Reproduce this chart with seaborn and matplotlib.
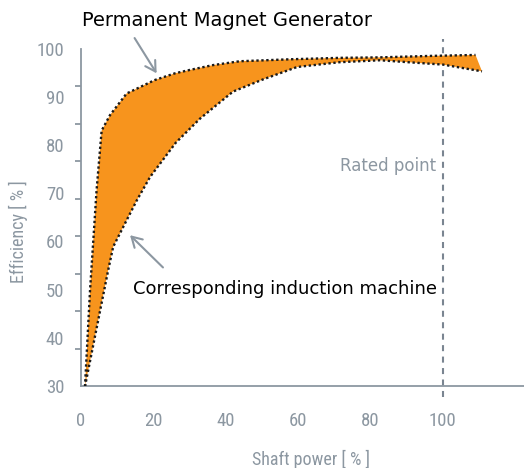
import numpy as np
import matplotlib
matplotlib.use("Agg")
import matplotlib.pyplot as plt
import seaborn as sns

# upper curve: permanent magnet generator
pmg_power = [1.1, 2.5, 4.3, 5.7, 8.0, 12.6, 20.4, 26.0, 30.1, 36.5, 43.9, 57.7, 71.5, 82.6, 96.4, 109.0]
pmg_eff = [29.9, 49.9, 70.6, 83.0, 86.2, 90.7, 93.5, 94.9, 95.6, 96.6, 97.4, 97.8, 98.1, 98.2, 98.5, 98.7]

# lower curve: corresponding induction machine
im_power = [1.1, 7.5, 8.9, 12.2, 15.4, 19.1, 26.2, 32.9, 42.0, 50.2, 59.7, 71.5, 82.6, 100.0, 110.8]
im_eff = [29.9, 54.0, 58.9, 63.8, 68.5, 73.4, 80.5, 85.5, 91.1, 93.6, 96.2, 97.2, 97.6, 96.7, 95.3]

x_ticks = [0, 20, 40, 60, 80, 100]
y_ticks = [30, 40, 50, 60, 70, 80, 90, 100]
rated_power = 100

ORANGE = "#F7941D"
GREY = "#8C97A1"
DARK_GREY = "#7A8591"

sns.set_theme(style="white")
plt.rcParams["font.family"] = ["DejaVu Sans"]
NARROW = dict(family=["Liberation Sans Narrow", "Roboto Condensed", "DejaVu Sans"],
              stretch="condensed")

fig = plt.figure(figsize=(5.24, 4.68), dpi=100)
ax = fig.add_axes([81 / 524, 82 / 468, 1 - 81 / 524, (386 - 48.7) / 468])

# band between the two curves
band_x = np.concatenate([pmg_power, im_power[::-1]])
band_y = np.concatenate([pmg_eff, im_eff[::-1]])
ax.fill(band_x, band_y, color=ORANGE, lw=0, zorder=2)

dots = dict(sort=False, estimator=None, ax=ax, color="#1a1a1a", lw=1.7,
            linestyle=(0, (1, 1.1)), zorder=3)
sns.lineplot(x=pmg_power, y=pmg_eff, **dots)
sns.lineplot(x=im_power, y=im_eff, **dots)

# rated point marker line
ax.plot([rated_power, rated_power], [27.7, 102.1], color=DARK_GREY, lw=1.5,
        linestyle=(0, (2.9, 2.6)), clip_on=False, zorder=1)
ax.text(98.1, 75.6, "Rated point", ha="right", va="center", color=GREY, fontsize=12)

ax.set_xlim(0, 122.4)
ax.set_ylim(30, 100)

for side in ["top", "right"]:
    ax.spines[side].set_visible(False)
for side in ["left", "bottom"]:
    ax.spines[side].set_color(GREY)
    ax.spines[side].set_linewidth(1.3)

ax.set_xticks(x_ticks)
ax.set_xticklabels([str(v) for v in x_ticks], fontsize=13.5, color=GREY, **NARROW)
ax.tick_params(axis="x", direction="out", length=4.5, width=1.3, color=GREY, pad=14)

ax.set_yticks(y_ticks)
ax.set_yticklabels([str(v) for v in y_ticks], fontsize=13.5, color=GREY, **NARROW)
ax.tick_params(axis="y", which="major", length=0, pad=12)
ax.set_yticks(np.linspace(30, 100, 10), minor=True)
ax.tick_params(axis="y", which="minor", direction="out", length=4.5, width=1.3,
               color=GREY, left=True)

# annotations
ax.text(0.3, 105.8, "Permanent Magnet Generator", ha="left", va="center",
        fontsize=14, color="black", clip_on=False)
ax.annotate("", xy=(21.3, 94.4), xytext=(14.4, 102.7), annotation_clip=False,
            arrowprops=dict(arrowstyle="->,head_length=0.6,head_width=0.35",
                            color=GREY, lw=1.5))
ax.text(14.4, 50.1, "Corresponding induction machine", ha="left", va="center",
        fontsize=13, color="black")
ax.annotate("", xy=(13.0, 61.7), xytext=(23.2, 54.2),
            arrowprops=dict(arrowstyle="->,head_length=0.6,head_width=0.35",
                            color=GREY, lw=1.5))

fig.text(18 / 524, 1 - 232 / 468, "Efficiency [ % ]", rotation=90, ha="center",
         va="center", color=GREY, fontsize=13, **NARROW)
fig.text(311 / 524, 1 - 459 / 468, "Shaft power [ % ]", ha="center", va="center",
         color=GREY, fontsize=13, **NARROW)

fig.savefig("out.png", dpi=100)
